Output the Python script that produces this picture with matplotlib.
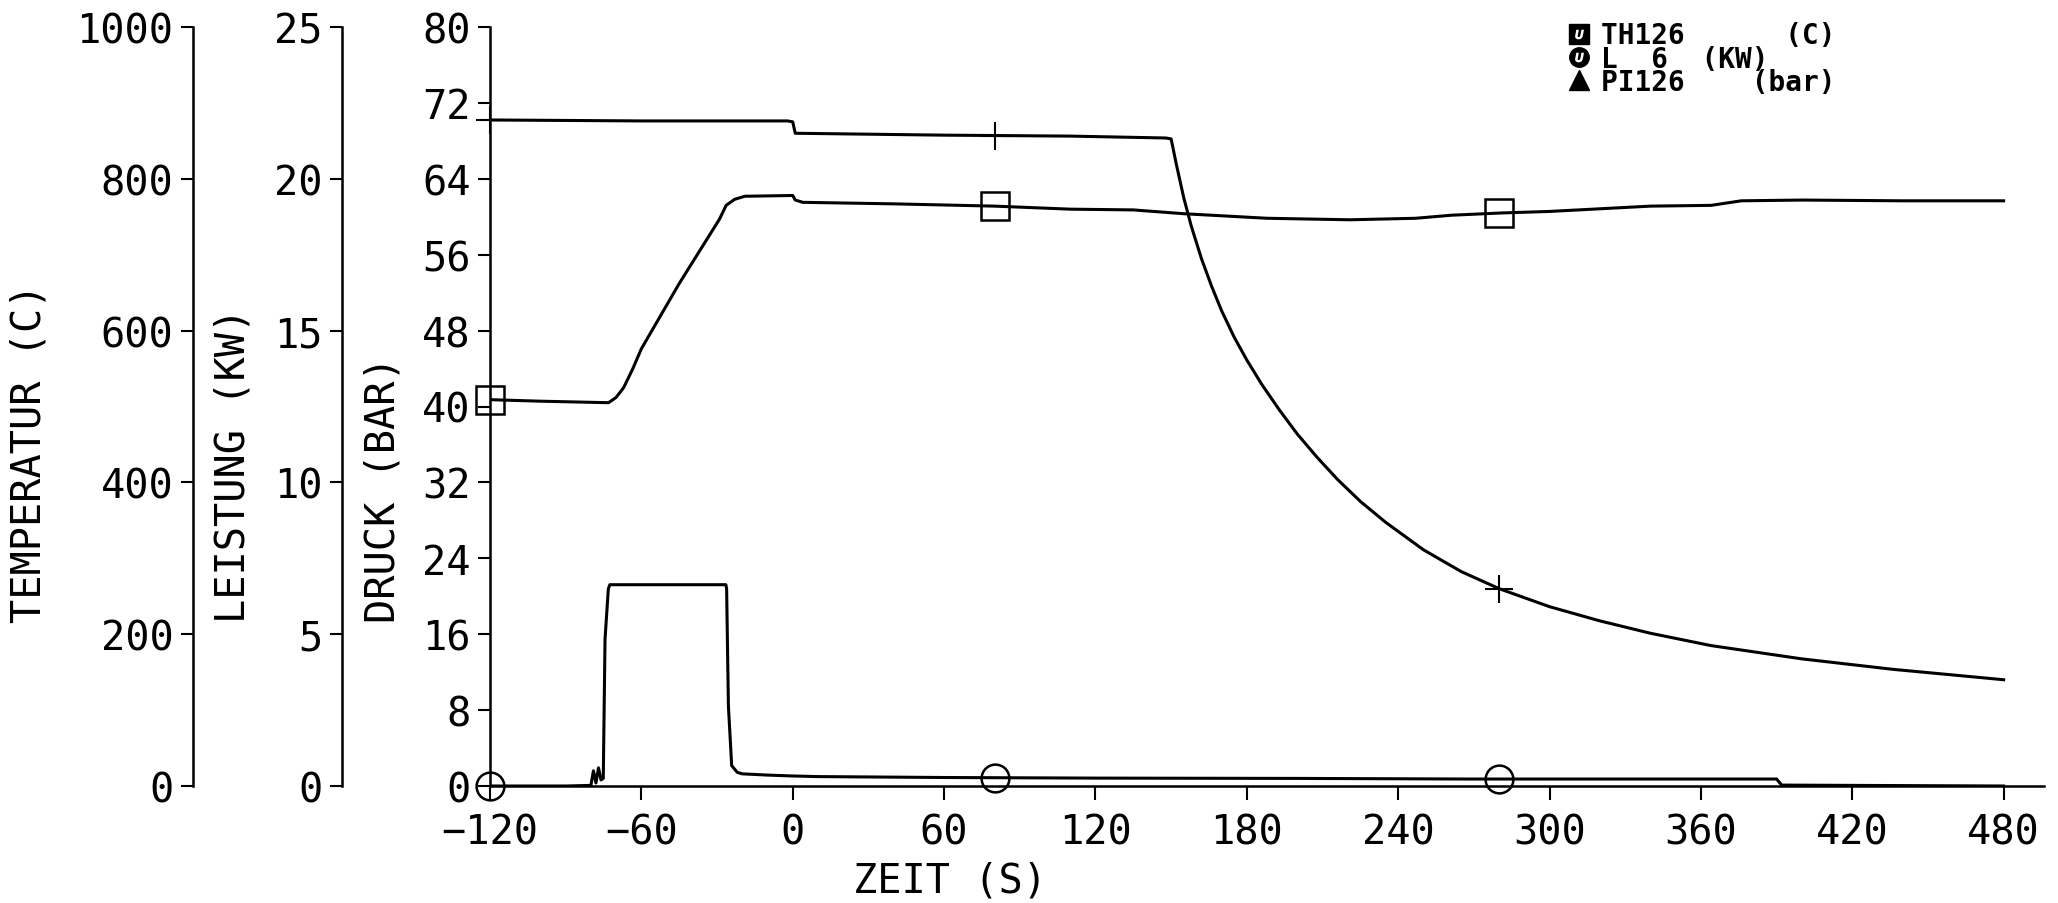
import matplotlib.pyplot as plt
import numpy as np

t_p = [-120, -60, -2, 0, 1, 60, 110, 148, 150, 152, 155, 158, 162, 166, 170,
       175, 180, 186, 193, 200, 208, 216, 225, 235, 250, 265, 280, 300, 320,
       340, 364, 400, 436, 480]
druck = [70.2, 70.1, 70.1, 70.0, 68.8, 68.6, 68.5, 68.3, 68.2, 65.6, 62.0, 59.0,
         55.6, 52.7, 50.1, 47.3, 44.9, 42.3, 39.6, 37.1, 34.6, 32.3, 30.0, 27.8,
         24.9, 22.6, 20.8, 18.9, 17.4, 16.1, 14.8, 13.4, 12.3, 11.2]

t_T = [-120, -100, -73, -70, -67, -63.5, -60, -45, -29, -26.4, -23, -19, 0, 1,
       4, 40, 80, 110, 135, 155, 188, 221, 247, 261, 281, 300, 340, 364, 376,
       400, 440, 480]
temp = [509, 507, 505, 512, 525, 549, 576, 662, 747, 765, 773, 777, 778, 772,
        769, 767, 764, 760, 759, 754, 748, 746, 748, 752, 755, 757, 764, 765,
        771, 772, 771, 771]

t_L = [-120, -90, -80, -79, -78, -77, -76, -75.1, -74.4, -73.1, -72.5, -26.5,
       -26.2, -25.5, -24.2, -22, -20, -10, 0, 10, 60, 120, 200, 267, 330, 390,
       392, 420, 480]
leistung = [0.0, 0.0, 0.02, 0.5, 0.1, 0.6, 0.2, 0.25, 4.84, 6.49, 6.63, 6.63,
            6.49, 2.64, 0.67, 0.45, 0.4, 0.36, 0.33, 0.31, 0.28, 0.26, 0.25,
            0.23, 0.23, 0.23, 0.03, 0.02, 0.0]

t_mark = [-120, 80, 280]  # Symbole alle 200 s

legende = ['TH126      (C)', 'L  6  (KW)', 'PI126    (bar)']
leg_m = ['s', 'o', '^']

FONT = 'DejaVu Sans Mono'
FS = 29
LW = 2.2

fig = plt.figure(figsize=(20.58, 9.04), dpi=100)
ax = fig.add_axes([490 / 2058, 1 - 787 / 904, 1554 / 2058, 759 / 904])
ax_T = ax.twinx()
ax_L = ax.twinx()

ax.set_xlim(-120, 496)
ax.set_ylim(0, 80)
ax_T.set_ylim(0, 1000)
ax_L.set_ylim(0, 25)

for s in ['top', 'right']:
    ax.spines[s].set_visible(False)
for a, pos in [(ax_T, -297 / 1554), (ax_L, -148 / 1554)]:
    for s in ['top', 'right', 'bottom']:
        a.spines[s].set_visible(False)
    a.spines['left'].set_visible(True)
    a.spines['left'].set_position(('axes', pos))
    a.yaxis.set_ticks_position('left')
    a.yaxis.set_label_position('left')
for a in [ax, ax_T, ax_L]:
    for s in a.spines.values():
        s.set_linewidth(1.8)

ax.set_xticks(np.arange(-120, 481, 60))
ax.set_yticks(np.arange(0, 81, 8))
ax_T.set_yticks(np.arange(0, 1001, 200))
ax_L.set_yticks(np.arange(0, 26, 5))

ax.tick_params(axis='x', direction='out', length=10, width=1.5, pad=9)
for a in [ax, ax_T, ax_L]:
    a.tick_params(axis='y', direction='out', length=9, width=1.5, pad=5)
    for lab in a.get_xticklabels() + a.get_yticklabels():
        lab.set_fontfamily(FONT)
        lab.set_fontsize(FS)

# Kurven
ax.plot(t_p, druck, color='k', lw=LW)
ax_T.plot(t_T, temp, color='k', lw=LW)
ax_L.plot(t_L, leistung, color='k', lw=LW)

# Symbole auf den Kurven
ax.plot(t_mark, np.interp(t_mark, t_p, druck), ls='none', marker='+', ms=20,
        mew=1.5, color='k', clip_on=False)
ax_T.plot(t_mark, np.interp(t_mark, t_T, temp), ls='none', marker='s', ms=20,
          mfc='none', mew=1.8, color='k', clip_on=False)
ax_L.plot(t_mark, np.interp(t_mark, t_L, leistung), ls='none', marker='o', ms=20,
          mfc='none', mew=1.8, color='k', clip_on=False)

# Achsentitel
fig.text(30 / 2058, 1 - 623 / 904, 'TEMPERATUR (C)', rotation=90, ha='center',
         va='bottom', fontsize=FS, family=FONT)
fig.text(233 / 2058, 1 - 623 / 904, 'LEISTUNG (KW)', rotation=90, ha='center',
         va='bottom', fontsize=FS, family=FONT)
fig.text(383 / 2058, 1 - 623 / 904, 'DRUCK (BAR)', rotation=90, ha='center',
         va='bottom', fontsize=FS, family=FONT)
fig.text(950 / 2058, 1 - 882 / 904, 'ZEIT (S)', ha='center', va='center',
         fontsize=FS, family=FONT)

# Legende oben rechts (ein mehrzeiliger Text)
fig.text(1601 / 2058, 1 - 22 / 904, '\n'.join(legende), fontsize=20,
         weight='bold', family=FONT, ha='left', va='top', linespacing=0.8)
for y, m in zip([35, 58, 81], leg_m):
    yf = 1 - y / 904
    ax.plot([1579 / 2058], [yf], transform=fig.transFigure, marker=m, ms=14,
            color='k', ls='none', clip_on=False)
    if m != '^':
        ax.plot([1579 / 2058], [yf], transform=fig.transFigure, marker='$U$',
                ms=6, color='white', ls='none', clip_on=False)

fig.savefig('out.png', dpi=100)
